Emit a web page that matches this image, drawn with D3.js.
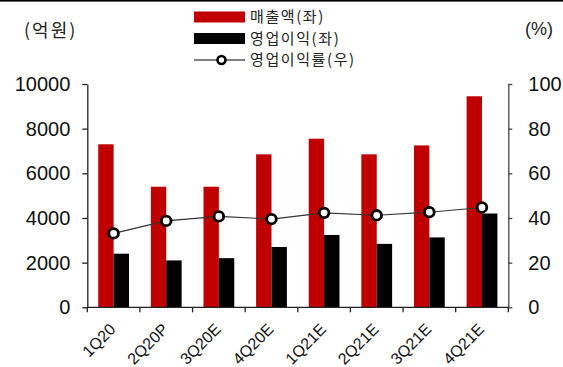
<!DOCTYPE html>
<html>
<head>
<meta charset="utf-8">
<script src="https://cdn.jsdelivr.net/npm/d3@7"></script>
<style>
  html, body { margin: 0; padding: 0; background: #fff; }
  svg { display: block; }
  .num { font-family: "Liberation Sans", Arial, sans-serif; }
  .kr { font-family: "Noto Sans CJK KR", "Liberation Sans", sans-serif; }
</style>
</head>
<body>
<svg id="chart" width="563" height="367"></svg>
<script>
// Quarterly sales, operating profit (억원) and operating margin (%)
const quarters = ["1Q20", "2Q20P", "3Q20E", "4Q20E", "1Q21E", "2Q21E", "3Q21E", "4Q21E"];
const sales = [7300, 5400, 5400, 6850, 7550, 6850, 7250, 9450];
const opProfit = [2400, 2100, 2200, 2700, 3240, 2840, 3130, 4200];
const opMargin = [33.1, 38.7, 40.7, 39.5, 42.3, 41.2, 42.6, 44.7];
const leftTicks = [0, 2000, 4000, 6000, 8000, 10000];
const rightTicks = [0, 20, 40, 60, 80, 100];
const seriesNames = ["매출액(좌)", "영업이익(좌)", "영업이익률(우)"];
const leftUnit = "(억원)";
const rightUnit = "(%)";

const RED = "#C00000";
const BLACK = "#000000";
const AXIS = "#222";

const svg = d3.select("#chart");
const W = 563, H = 367;
const plot = { left: 87.3, right: 508.3, top: 84, bottom: 307.3 };

// top rule
svg.append("rect").attr("x", 0).attr("y", 0).attr("width", W).attr("height", 1.6).attr("fill", "#000");

const x0 = d3.scaleBand().domain(quarters).range([plot.left, plot.right]).padding(0);
const x1 = d3.scaleBand().domain(["sales", "op"]).range([0, x0.bandwidth()])
  .paddingInner(0).paddingOuter(0.71);
const yL = d3.scaleLinear().domain([0, 10000]).range([plot.bottom, plot.top]);
const yR = d3.scaleLinear().domain([0, 100]).range([plot.bottom, plot.top]);

// bars
const rows = quarters.map((q, i) => ({ q, sales: sales[i], op: opProfit[i], margin: opMargin[i] }));
const g = svg.append("g");
g.selectAll("rect.sales").data(rows).join("rect")
  .attr("class", "sales")
  .attr("x", d => x0(d.q) + x1("sales"))
  .attr("width", x1.bandwidth())
  .attr("y", d => yL(d.sales))
  .attr("height", d => yL(0) - yL(d.sales))
  .attr("fill", RED);
g.selectAll("rect.op").data(rows).join("rect")
  .attr("class", "op")
  .attr("x", d => x0(d.q) + x1("op"))
  .attr("width", x1.bandwidth())
  .attr("y", d => yL(d.op))
  .attr("height", d => yL(0) - yL(d.op))
  .attr("fill", BLACK);

// left axis
const axL = svg.append("g").attr("transform", `translate(${plot.left},0)`)
  .call(d3.axisLeft(yL).tickValues(leftTicks).tickFormat(d3.format("d"))
    .tickSizeOuter(0).tickSizeInner(5).tickPadding(12));
axL.selectAll("path, line").attr("stroke", AXIS).attr("stroke-width", 1.3);
axL.selectAll("text").attr("class", "num").attr("font-size", 20).attr("fill", "#111");

// right axis
const axR = svg.append("g").attr("transform", `translate(${plot.right},0)`)
  .call(d3.axisRight(yR).tickValues(rightTicks).tickFormat(d3.format("d"))
    .tickSizeOuter(0).tickSizeInner(4).tickPadding(16));
axR.selectAll("path, line").attr("stroke", "#444").attr("stroke-width", 1.3);
axR.selectAll("text").attr("class", "num").attr("font-size", 20).attr("fill", "#111");

// bottom axis: ticks at category boundaries
const axB = svg.append("g").attr("transform", `translate(0,${plot.bottom})`);
axB.append("line").attr("x1", plot.left).attr("x2", plot.right)
  .attr("stroke", AXIS).attr("stroke-width", 1.3);
const bounds = quarters.map(q => x0(q)).concat([x0(quarters[quarters.length - 1]) + x0.bandwidth()]);
axB.selectAll("line.tk").data(bounds).join("line").attr("class", "tk")
  .attr("x1", d => d).attr("x2", d => d).attr("y1", 0).attr("y2", 5)
  .attr("stroke", AXIS).attr("stroke-width", 1.3);
axB.selectAll("text").data(quarters).join("text")
  .attr("class", "num")
  .attr("font-size", 16)
  .attr("fill", "#111")
  .attr("text-anchor", "end")
  .attr("transform", q => `translate(${x0(q) + x0.bandwidth() / 2 + 3},${23}) rotate(-45)`)
  .text(q => q);

// margin line
const cx = q => x0(q) + x0.bandwidth() / 2;
svg.append("path").datum(rows)
  .attr("d", d3.line().x(d => cx(d.q)).y(d => yR(d.margin)))
  .attr("fill", "none").attr("stroke", "#333").attr("stroke-width", 1.1);
svg.selectAll("circle.pt").data(rows).join("circle").attr("class", "pt")
  .attr("cx", d => cx(d.q)).attr("cy", d => yR(d.margin)).attr("r", 4.8)
  .attr("fill", "#fff").attr("stroke", "#000").attr("stroke-width", 2.8);

// unit labels
svg.append("text").attr("class", "kr").attr("x", 24).attr("y", 37)
  .attr("font-size", 18).attr("letter-spacing", 2).attr("fill", "#222").text(leftUnit);
svg.append("text").attr("class", "num").attr("x", 525).attr("y", 35)
  .attr("font-size", 18).attr("fill", "#222").text(rightUnit);

// legend
const leg = svg.append("g");
const legY = [17, 38.5, 60];
const lx = 194, lw = 51;
leg.append("rect").attr("x", lx).attr("y", legY[0] - 5.5).attr("width", lw).attr("height", 11).attr("fill", RED);
leg.append("rect").attr("x", lx).attr("y", legY[1] - 5.5).attr("width", lw).attr("height", 11).attr("fill", BLACK);
leg.append("line").attr("x1", lx).attr("x2", lx + lw).attr("y1", legY[2]).attr("y2", legY[2])
  .attr("stroke", "#000").attr("stroke-width", 1.2);
leg.append("circle").attr("cx", lx + lw / 2 + 2).attr("cy", legY[2]).attr("r", 4)
  .attr("fill", "#fff").attr("stroke", "#000").attr("stroke-width", 2.6);
leg.selectAll("text").data(seriesNames).join("text")
  .attr("class", "kr")
  .attr("x", 250)
  .attr("y", (d, i) => legY[i])
  .attr("dy", "0.36em")
  .attr("font-size", 15)
  .attr("letter-spacing", 1.6)
  .attr("fill", "#222")
  .text(d => d);
</script>
</body>
</html>
